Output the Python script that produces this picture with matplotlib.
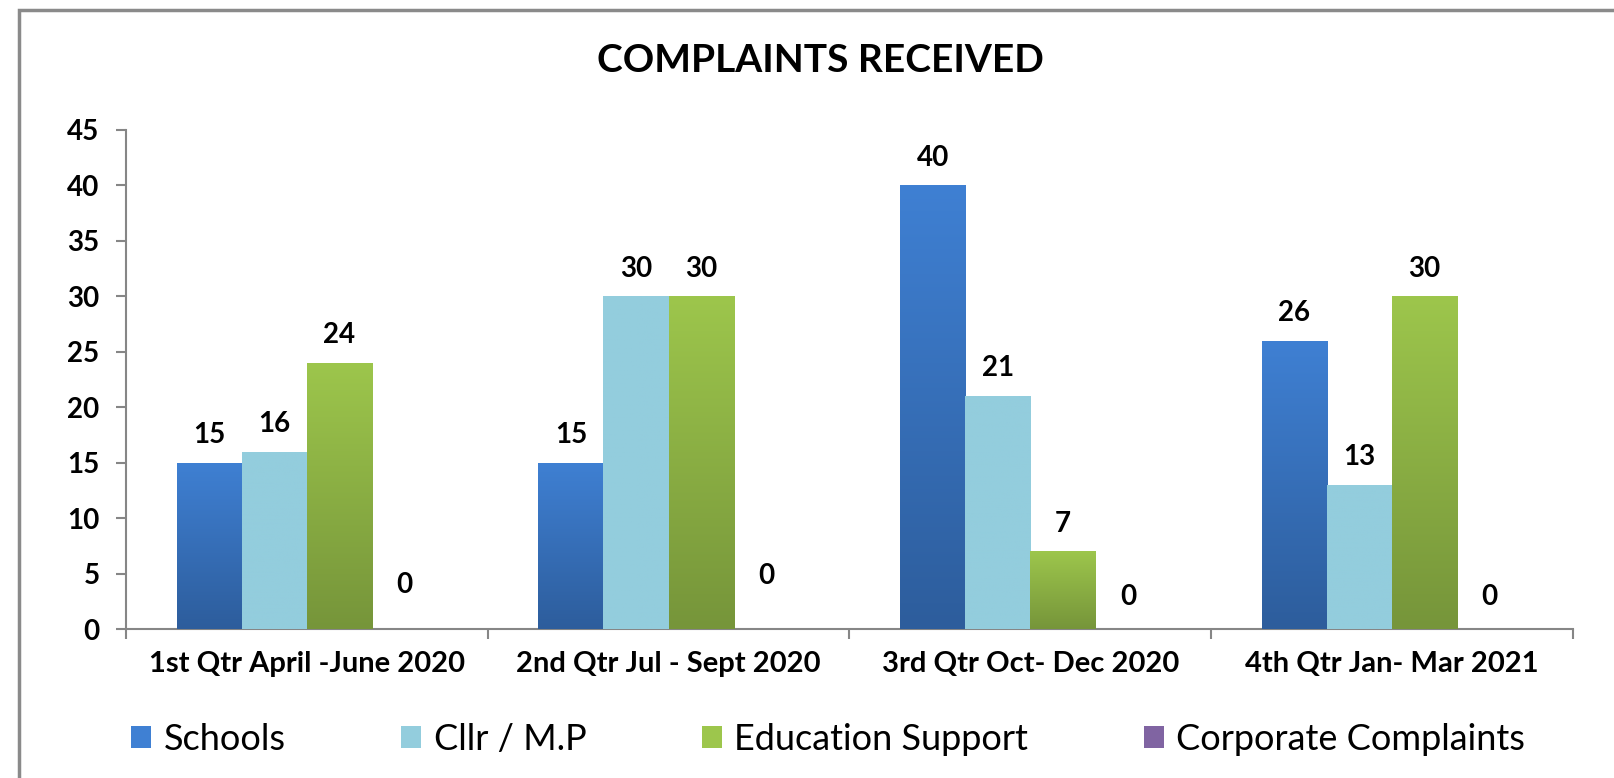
import numpy as np
import matplotlib
matplotlib.use("Agg")
import matplotlib.pyplot as plt
from matplotlib.colors import LinearSegmentedColormap
from matplotlib.patches import Rectangle, Patch

plt.rcParams['font.family'] = ['Lato', 'DejaVu Sans']

quarters = ['1st Qtr April -June 2020', '2nd Qtr Jul - Sept 2020',
            '3rd Qtr Oct- Dec 2020', '4th Qtr Jan- Mar 2021']
series = ['Schools', 'Cllr / M.P', 'Education Support', 'Corporate Complaints']
schools = [15, 15, 40, 26]
cllr_mp = [16, 30, 21, 13]
education = [24, 30, 7, 30]
corporate = [0, 0, 0, 0]

# (top colour, bottom colour) for each series
colours = [('#3f80d3', '#2d5d9c'), ('#93cddd', '#93cddd'),
           ('#9dc64c', '#76953a'), ('#8064a2', '#5f4a7c')]
# the zero labels sit at odd heights in the original
zero_lift = [32, 38, 23, 23]

fig = plt.figure(figsize=(16.15, 7.78), dpi=100)
ax = fig.add_axes([0.078, 0.1915, 0.896, 0.6415])

x = np.arange(len(quarters))
w = 0.18
grad = np.linspace(0, 1, 256).reshape(-1, 1)
for i, (vals, (top, bot)) in enumerate(zip([schools, cllr_mp, education, corporate], colours)):
    pos = x + (i - 1.5) * w
    bars = ax.bar(pos, vals, w, color=top, linewidth=0, zorder=2)
    cmap = LinearSegmentedColormap.from_list(series[i], [bot, top])
    for j, (b, v) in enumerate(zip(bars, vals)):
        if v > 0:
            im = ax.imshow(grad, extent=[b.get_x(), b.get_x() + w, 0, v], origin='lower',
                           cmap=cmap, aspect='auto', zorder=3)
            im.set_clip_path(b)
            lift = 20
        else:
            lift = zero_lift[j]
        ax.annotate(str(v), (b.get_x() + w / 2, v), xytext=(0, lift), textcoords='offset points',
                    ha='center', va='center', fontsize=20, fontweight='bold')

ax.set_xlim(-0.5, 3.5)
ax.set_ylim(0, 45)
ax.set_yticks(range(0, 46, 5))
ax.set_xticks(x)
ax.set_xticklabels(quarters)
ax.set_xticks(np.arange(-0.5, 4, 1), minor=True)
for s in ['top', 'right']:
    ax.spines[s].set_visible(False)
for s in ['left', 'bottom']:
    ax.spines[s].set_color('#868686')
    ax.spines[s].set_linewidth(1.5)
ax.tick_params(axis='y', length=7, width=1.5, color='#868686', pad=12, labelsize=20)
ax.tick_params(axis='x', which='major', length=0, pad=16, labelsize=21)
ax.tick_params(axis='x', which='minor', length=7, width=1.5, color='#868686')
for lab in ax.get_xticklabels() + ax.get_yticklabels():
    lab.set_fontweight('bold')

fig.text(0.508, 0.922, 'COMPLAINTS RECEIVED', ha='center', va='center',
         fontsize=28, fontweight='bold')

handles = [Patch(facecolor=c[0]) for c in colours]
fig.legend(handles, series, loc='center left', bbox_to_anchor=(0.061, 0.05), ncol=4,
           frameon=False, fontsize=26, handlelength=0.55, handleheight=0.55,
           handletextpad=0.35, columnspacing=3.2)

fig.add_artist(Rectangle((19 / 1615, -0.1), 1.2, 1.1 - 10 / 778, transform=fig.transFigure,
                         fill=False, edgecolor='#8a8a8a', linewidth=2.5))

fig.savefig('out.png', dpi=100)
